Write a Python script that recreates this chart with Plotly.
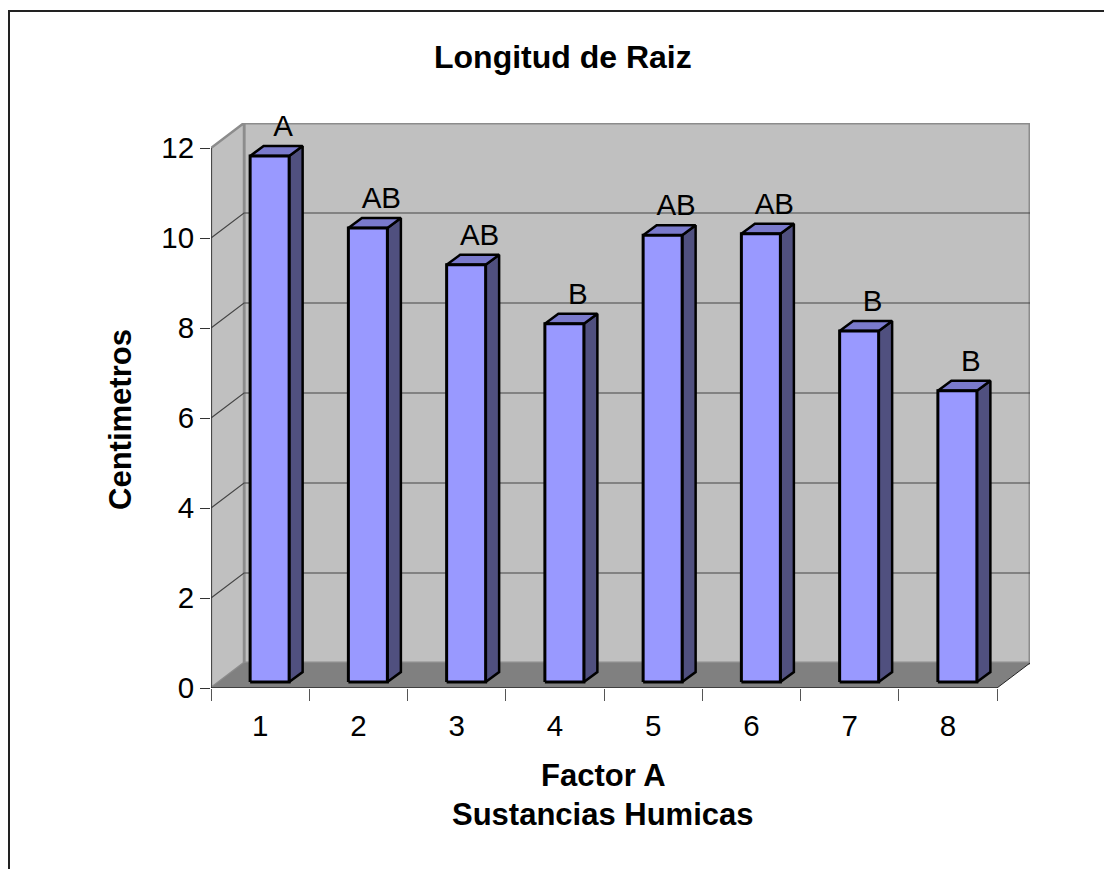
import plotly.graph_objects as go

categories = [1, 2, 3, 4, 5, 6, 7, 8]
values = [11.69, 10.09, 9.27, 7.96, 9.93, 9.96, 7.8, 6.47]
letters = ["A", "AB", "AB", "B", "AB", "AB", "B", "B"]
y_ticks = [0, 2, 4, 6, 8, 10, 12]

PAGE = 8       # browser body margin
W, H = 1104, 861
PX_X = 98.25   # px per category
PX_Y = 45.0    # px per unit
L, B = 211 - PAGE, 688 - PAGE
RIGHT, TOP = 1030 - PAGE, 123 - PAGE
DX, DY = 33 / PX_X, 25 / PX_Y       # wall depth in data units
BDX, BDY = 13.5 / PX_X, 10 / PX_Y   # bar depth
OX, OY = 9.5 / PX_X, 6 / PX_Y       # bar offset from the front edge
BW = 39 / PX_X
x0, x1 = 0.5, 8.5
y_max = 12


def px(x):
    return (x - PAGE - L) / (RIGHT - L)


def py(y):
    return (B - (y - PAGE)) / (B - TOP)


def poly(xs, ys, fill, line_color=None, line_width=0):
    return go.Scatter(
        x=xs + xs[:1], y=ys + ys[:1], mode="lines", fill="toself", fillcolor=fill,
        line=dict(color=line_color or fill, width=line_width), hoverinfo="skip",
        showlegend=False, cliponaxis=False,
    )


def seg(xs, ys, color, width):
    return go.Scatter(x=xs, y=ys, mode="lines", line=dict(color=color, width=width),
                      hoverinfo="skip", showlegend=False, cliponaxis=False)


fig = go.Figure()
# back wall, left wall, floor
fig.add_trace(poly([x0 + DX, x1 + DX, x1 + DX, x0 + DX], [DY, DY, y_max + DY, y_max + DY],
                   "#C0C0C0", "#8C8C8C", 3))
fig.add_trace(poly([x0, x0 + DX, x0 + DX, x0], [0, DY, y_max + DY, y_max], "#C0C0C0", "#8C8C8C", 2.5))
for t in y_ticks[1:-1]:
    fig.add_trace(seg([x0, x0 + DX, x1 + DX], [t, t + DY, t + DY], "#444444", 1.2))
fig.add_trace(poly([x0, x0 + DX, x1 + DX, x1], [0, DY, DY, 0], "#808080"))
fig.add_trace(seg([x1, x1 + DX], [0, DY], "#222222", 1))
fig.add_trace(seg([x0, x0], [0, y_max], "#333333", 1.5))

# bars
for c, v in zip(categories, values):
    lft, rgt = c - BW / 2 + OX, c + BW / 2 + OX
    base, top = OY, OY + v
    fig.add_trace(poly([rgt, rgt + BDX, rgt + BDX, rgt], [base, base + BDY, top + BDY, top],
                       "#50507F", "#000000", 2.5))
    fig.add_trace(poly([lft, lft + BDX, rgt + BDX, rgt], [top, top + BDY, top + BDY, top],
                       "#7A7ACC", "#000000", 2.5))
    fig.add_trace(poly([lft, rgt, rgt, lft], [base, base, top, top], "#9999FF", "#000000", 3))

# axis line
fig.add_trace(seg([x0, x1], [0, 0], "#000000", 1.2))

# group letters
fig.add_trace(go.Scatter(
    x=[c + OX + BDX for c in categories],
    y=[v + OY + BDY + 0.39 for v in values],
    mode="text", text=letters,
    textfont=dict(family="Liberation Sans", size=29.5, color="#000000"),
    hoverinfo="skip", showlegend=False, cliponaxis=False,
))

fig.update_layout(
    width=W, height=H, autosize=False,
    margin=dict(l=L, r=W - RIGHT, t=TOP, b=H - B),
    paper_bgcolor="#FFFFFF", plot_bgcolor="#FFFFFF",
    font=dict(family="Liberation Sans", color="#000000"),
    xaxis=dict(
        range=[x0, x1 + DX], tickmode="array", tickvals=categories,
        ticktext=[str(c) for c in categories], ticks="", ticklen=0, showgrid=False,
        zeroline=False, showline=False, tickfont=dict(size=29.5), ticklabelstandoff=17,
        minor=dict(tickmode="array", tickvals=[i + 0.5 for i in range(0, 9)],
                   ticks="outside", ticklen=12, tickcolor="#555555", tickwidth=1.2, showgrid=False),
    ),
    yaxis=dict(
        range=[0, y_max + DY], tickmode="array", tickvals=y_ticks,
        ticks="outside", ticklen=10, tickcolor="#333333", tickwidth=1.2, showgrid=False,
        zeroline=False, showline=False, tickfont=dict(size=29.5), ticklabelstandoff=0,
    ),
    annotations=[
        dict(text="<b>Longitud de Raiz</b>", xref="paper", yref="paper", x=px(563), y=py(57),
             xanchor="center", yanchor="middle", showarrow=False, font=dict(size=32)),
        dict(text="<b>Factor A</b>", xref="paper", yref="paper", x=px(603), y=py(775),
             xanchor="center", yanchor="middle", showarrow=False, font=dict(size=31)),
        dict(text="<b>Sustancias Humicas</b>", xref="paper", yref="paper", x=px(603), y=py(814),
             xanchor="center", yanchor="middle", showarrow=False, font=dict(size=31)),
        dict(text="<b>Centimetros</b>", xref="paper", yref="paper", x=px(120), y=py(420),
             xanchor="center", yanchor="middle", showarrow=False, textangle=-90, font=dict(size=31)),
    ],
    shapes=[
        dict(type="path", xref="paper", yref="paper", layer="above",
             path=f"M {px(9)} {py(880)} L {px(9)} {py(11)} L {px(1115)} {py(11)}",
             line=dict(color="#222222", width=2)),
    ],
)
fig.write_html("out.html")
